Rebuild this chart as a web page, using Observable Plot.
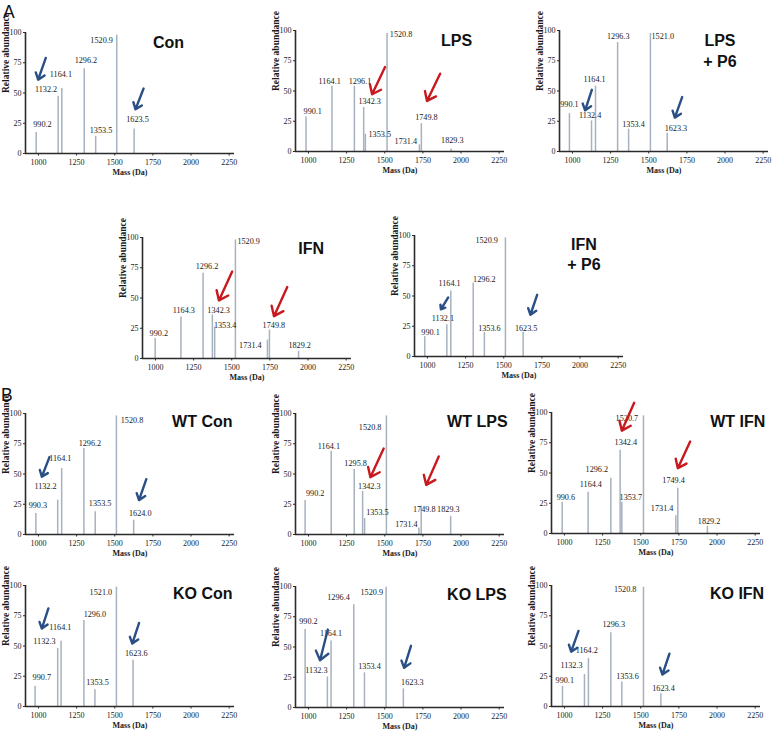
<!DOCTYPE html>
<html><head><meta charset="utf-8">
<script src="https://cdn.jsdelivr.net/npm/d3@7"></script>
<script src="https://cdn.jsdelivr.net/npm/@observablehq/plot@0.6"></script>
<style>
body{margin:0;background:#fff;}
#fig{position:relative;width:774px;height:733px;overflow:hidden;background:#fff;}
#fig svg{position:absolute;overflow:visible;}
</style></head>
<body><div id="fig"></div>
<script>
// Axis ticks and mass window
const xTicks = [1000, 1250, 1500, 1750, 2000, 2250];
const yTicks = [0, 25, 50, 75, 100];
const massDomain = [915, 2285];

// Peaks: [drawn mass, relative abundance, label, label mass, label abundance]
const peaksACon = [[985,17.4,"990.2",1026,21.8],[1129,47.4,"1132.2",1050,51],[1153,53.7,"1164.1",1147,63],[1300,70,"1296.2",1311,75],[1375,14.2,"1353.5",1410,16.9],[1513,97.8,"1520.9",1414,91.3],[1627,20.2,"1623.5",1649,25.9]];
const peaksALPS = [[984,28.6,"990.1",1028,30.8],[1154,54,"1164.1",1139,55.5],[1301,54,"1296.1",1338,56],[1362,36.3,"1342.3",1401,39],[1373,14.3,"1353.5",1467,12],[1515,97.5,"1520.8",1607,94.5],[1727,5.5,"1731.4",1638,6],[1740,23,"1749.8",1773,26],[1935,2,"1829.3",1943,7.4]];
const peaksALPSP6 = [[980,31.3,"990.1",980,36.8],[1125,25.3,"1132.4",1116,27.5],[1151,54,"1164.1",1145,57.7],[1296,90,"1296.3",1300,93],[1368,18.4,"1353.4",1400,20],[1511,97.5,"1521.0",1592,93],[1621,15,"1623.3",1678,17]];
const peaksAIFN = [[998,16.6,"990.2",1022,18.5],[1167,34.3,"1164.3",1186,37.8],[1312,70.4,"1296.2",1338,73.8],[1373,36,"1342.3",1414,37.8],[1388,26,"1353.4",1457,24.9],[1524,98,"1520.9",1611,94.5],[1734,15.2,"1731.4",1622,8.8],[1747,23.5,"1749.8",1776,25.4],[1938,6,"1829.2",1945,8.8]];
const peaksAIFNP6 = [[982,16.4,"990.1",1020,18],[1127,26.3,"1132.1",1101,29],[1153,54.2,"1164.1",1145,58.4],[1300,60.5,"1296.2",1373,61.6],[1373,20,"1353.6",1406,21.4],[1511,98,"1520.9",1388,94],[1627,20,"1623.5",1647,21.4]];
const peaksWTCon = [[983,17.4,"990.3",996,22],[1126,28.4,"1132.2",1046,37.5],[1152,54.5,"1164.1",1143,61],[1298,71,"1296.2",1337,73],[1372,18.7,"1353.5",1404,23.4],[1511,98,"1520.8",1613,92.5],[1624,11.8,"1624.0",1667,15.4]];
const peaksWTLPS = [[978,28,"990.2",1044,32],[1149,68.7,"1164.1",1134,71],[1300,53.7,"1295.8",1309,56.5],[1355,35.7,"1342.3",1399,38],[1368,13.3,"1353.5",1452,16],[1511,98,"1520.8",1404,86],[1724,5.3,"1731.4",1642,5.8],[1739,23.3,"1749.8",1759,18.3],[1932,15,"1829.3",1917,18.3]];
const peaksWTIFN = [[985,25.8,"990.6",1009,28],[1155,34,"1164.4",1173,38.2],[1304,45.7,"1296.2",1212,50.7],[1365,68.7,"1342.4",1402,73.4],[1376,25.8,"1353.7",1435,27.7],[1518,97.2,"1520.7",1409,92.8],[1730,14.7,"1731.4",1640,18.3],[1743,37.4,"1749.4",1715,41.8],[1937,5.8,"1829.2",1948,7.8]];
const peaksKOCon = [[978,16.7,"990.7",1022,21.7],[1126,48,"1132.3",1039,51.4],[1148,54,"1164.1",1143,63],[1298,71,"1296.0",1370,74],[1370,13.9,"1353.5",1387,17.5],[1511,98.6,"1521.0",1409,92.5],[1620,38.3,"1623.6",1641,42]];
const peaksKOLPS = [[978,64.4,"990.2",1000,68.6],[1124,25.2,"1132.3",1052,28.6],[1148,55,"1164.1",1148,58.8],[1297,85,"1296.4",1197,88.8],[1367,28.6,"1353.4",1400,32],[1509,99.4,"1520.9",1415,93],[1622,15.4,"1623.3",1681,18.2]];
const peaksKOIFN = [[987,16.7,"990.1",1002,19.4],[1131,26.4,"1132.3",1046,32],[1157,39.7,"1164.2",1146,44],[1304,61,"1296.3",1323,65.3],[1376,20.3,"1353.6",1413,23],[1518,98.6,"1520.8",1398,94.4],[1632,10.6,"1623.4",1649,13]];

// Arrows: [tail mass, tail abundance, head mass, head abundance]
const arrowsACon = [[1048,79,998,61],[1689,53.7,1636,36.5]];
const arrowsALPS = [[1502,69.8,1417,47.3],[1863,64.3,1777,41.8]];
const arrowsALPSP6 = [[1127,51,1083,34],[1719,45,1671,28]];
const arrowsAIFN = [[1503,71.8,1416,48],[1864,59,1777,35]];
const arrowsAIFNP6 = [[1136,48.8,1088,39],[1719,51,1675,34.5]];
const arrowsWTCon = [[1072,64,1022,47.7],[1707,45.7,1659,28.4]];
const arrowsWTLPS = [[1493,71,1406,47.4],[1854,64.5,1772,41]];
const arrowsWTIFN = [[1457,108,1376,85],[1824,76,1743,54]];
const arrowsKOCon = [[1065,81,1022,64.4],[1659,69,1615,52]];
const arrowsKOLPS = [[1127,64.4,1076,39],[1672,51,1627,32.8]];
const arrowsKOIFN = [[1092,62.5,1044,45.3],[1688,43.6,1642,26.4]];

// Titles: [text, mass, abundance]
const titleACon = ["Con", 1750, 99.5];
const titleALPS = ["LPS", 1869, 99.4];
const titleALPSP6 = ["LPS\n+ P6", 1967, 99.4];
const titleAIFN = ["IFN", 1936, 98.6];
const titleAIFNP6 = ["IFN\n+ P6", 2026, 100.5];
const titleWTCon = ["WT Con", 2272, 101];
const titleWTLPS = ["WT LPS", 2305, 101];
const titleWTIFN = ["WT IFN", 2316, 100];
const titleKOCon = ["KO Con", 2272, 100.8];
const titleKOLPS = ["KO LPS", 2299, 100.8];
const titleKOIFN = ["KO IFN", 2309, 101];

const BLUE = "#2a4f86", RED = "#c8191e";

const panels = [
  {peaks: peaksACon, arrows: arrowsACon, title: titleACon, color: BLUE, anchor: "start", left: 25, top: 32},
  {peaks: peaksALPS, arrows: arrowsALPS, title: titleALPS, color: RED, anchor: "start", left: 294.5, top: 29.5},
  {peaks: peaksALPSP6, arrows: arrowsALPSP6, title: titleALPSP6, color: BLUE, anchor: "middle", left: 559, top: 29.5},
  {peaks: peaksAIFN, arrows: arrowsAIFN, title: titleAIFN, color: RED, anchor: "start", left: 142, top: 236.5},
  {peaks: peaksAIFNP6, arrows: arrowsAIFNP6, title: titleAIFNP6, color: BLUE, anchor: "middle", left: 414, top: 234.5},
  {peaks: peaksWTCon, arrows: arrowsWTCon, title: titleWTCon, color: BLUE, anchor: "end", left: 25, top: 413},
  {peaks: peaksWTLPS, arrows: arrowsWTLPS, title: titleWTLPS, color: RED, anchor: "end", left: 295, top: 413},
  {peaks: peaksWTIFN, arrows: arrowsWTIFN, title: titleWTIFN, color: RED, anchor: "end", left: 551, top: 412},
  {peaks: peaksKOCon, arrows: arrowsKOCon, title: titleKOCon, color: BLUE, anchor: "end", left: 25, top: 585},
  {peaks: peaksKOLPS, arrows: arrowsKOLPS, title: titleKOLPS, color: BLUE, anchor: "end", left: 295, top: 586},
  {peaks: peaksKOIFN, arrows: arrowsKOIFN, title: titleKOIFN, color: BLUE, anchor: "end", left: 551, top: 585}
];

const fig = document.getElementById("fig");
const ML = 30, MR = 36, MT = 22, MB = 32, FW = 209, FH = 121;
const SERIF = "'Liberation Serif', 'Times New Roman', serif";
const SANS = "'Liberation Sans', Arial, sans-serif";
const AXIS = "#2b2b2b";

for (const p of panels) {
  const peaks = p.peaks.map(([mass, abund, label, lx, ly]) => ({mass, abund, label, lx, ly}));
  const arrows = p.arrows.map(([x1, y1, x2, y2]) => ({x1, y1, x2, y2}));
  const title = [{text: p.title[0], x: p.title[1], y: p.title[2]}];
  const svg = Plot.plot({
    width: ML + FW + MR, height: MT + FH + MB,
    marginLeft: ML, marginRight: MR, marginTop: MT, marginBottom: MB,
    x: {domain: massDomain},
    y: {domain: [0, 100]},
    style: {fontFamily: SERIF, fontSize: "8px", color: "#1a1a1a", background: "transparent", overflow: "visible"},
    marks: [
      Plot.ruleX(peaks, {x: "mass", y1: 0, y2: "abund", stroke: "#a7b1bf", strokeWidth: 1.5}),
      Plot.axisX({ticks: xTicks, tickFormat: d => String(d), tickSize: 2.5, tickPadding: 3, label: null, stroke: AXIS, fill: "#1a1a1a"}),
      Plot.axisY({ticks: yTicks, tickFormat: d => String(d), tickSize: 2, tickPadding: 2, label: null, stroke: AXIS, fill: "#1a1a1a"}),
      Plot.ruleY([0], {x1: massDomain[0], x2: massDomain[1], stroke: AXIS, strokeWidth: 1.6}),
      Plot.ruleX([massDomain[0]], {y1: 0, y2: 100, stroke: AXIS, strokeWidth: 1.6}),
      Plot.text(peaks, {x: "lx", y: "ly", text: "label", fontSize: 8.2, lineAnchor: "bottom", fill: "#1a1a1a"}),
      Plot.arrow(arrows, {x1: "x1", y1: "y1", x2: "x2", y2: "y2", stroke: p.color, strokeWidth: 2.4, headLength: 9, headAngle: 75}),
      Plot.text(title, {x: "x", y: "y", text: "text", fontFamily: SANS, fontWeight: "bold", fontSize: 16, textAnchor: p.anchor, lineAnchor: "top", lineHeight: 1.3, fill: "#111"}),
      Plot.text(["Mass (Da)"], {frameAnchor: "bottom", dy: 21, fontWeight: "bold", fontSize: 8, lineAnchor: "bottom", fill: "#1a1a1a"}),
      Plot.text(["Relative abundance"], {frameAnchor: "left", dx: -20, rotate: -90, fontWeight: "bold", fontSize: 9.5, lineAnchor: "middle", fill: "#1a1a1a"})
    ]
  });
  svg.style.left = (p.left - ML) + "px";
  svg.style.top = (p.top - MT) + "px";
  fig.appendChild(svg);
}

// Panel letters
const over = d3.select(fig).append("svg").attr("width", 774).attr("height", 733).style("left", "0px").style("top", "0px");
over.selectAll("text").data([["A", 3, 18], ["B", 1, 401]]).join("text")
  .attr("x", d => d[1]).attr("y", d => d[2]).text(d => d[0])
  .attr("font-family", SANS).attr("font-size", 17.5).attr("fill", "#111");
</script></body></html>
